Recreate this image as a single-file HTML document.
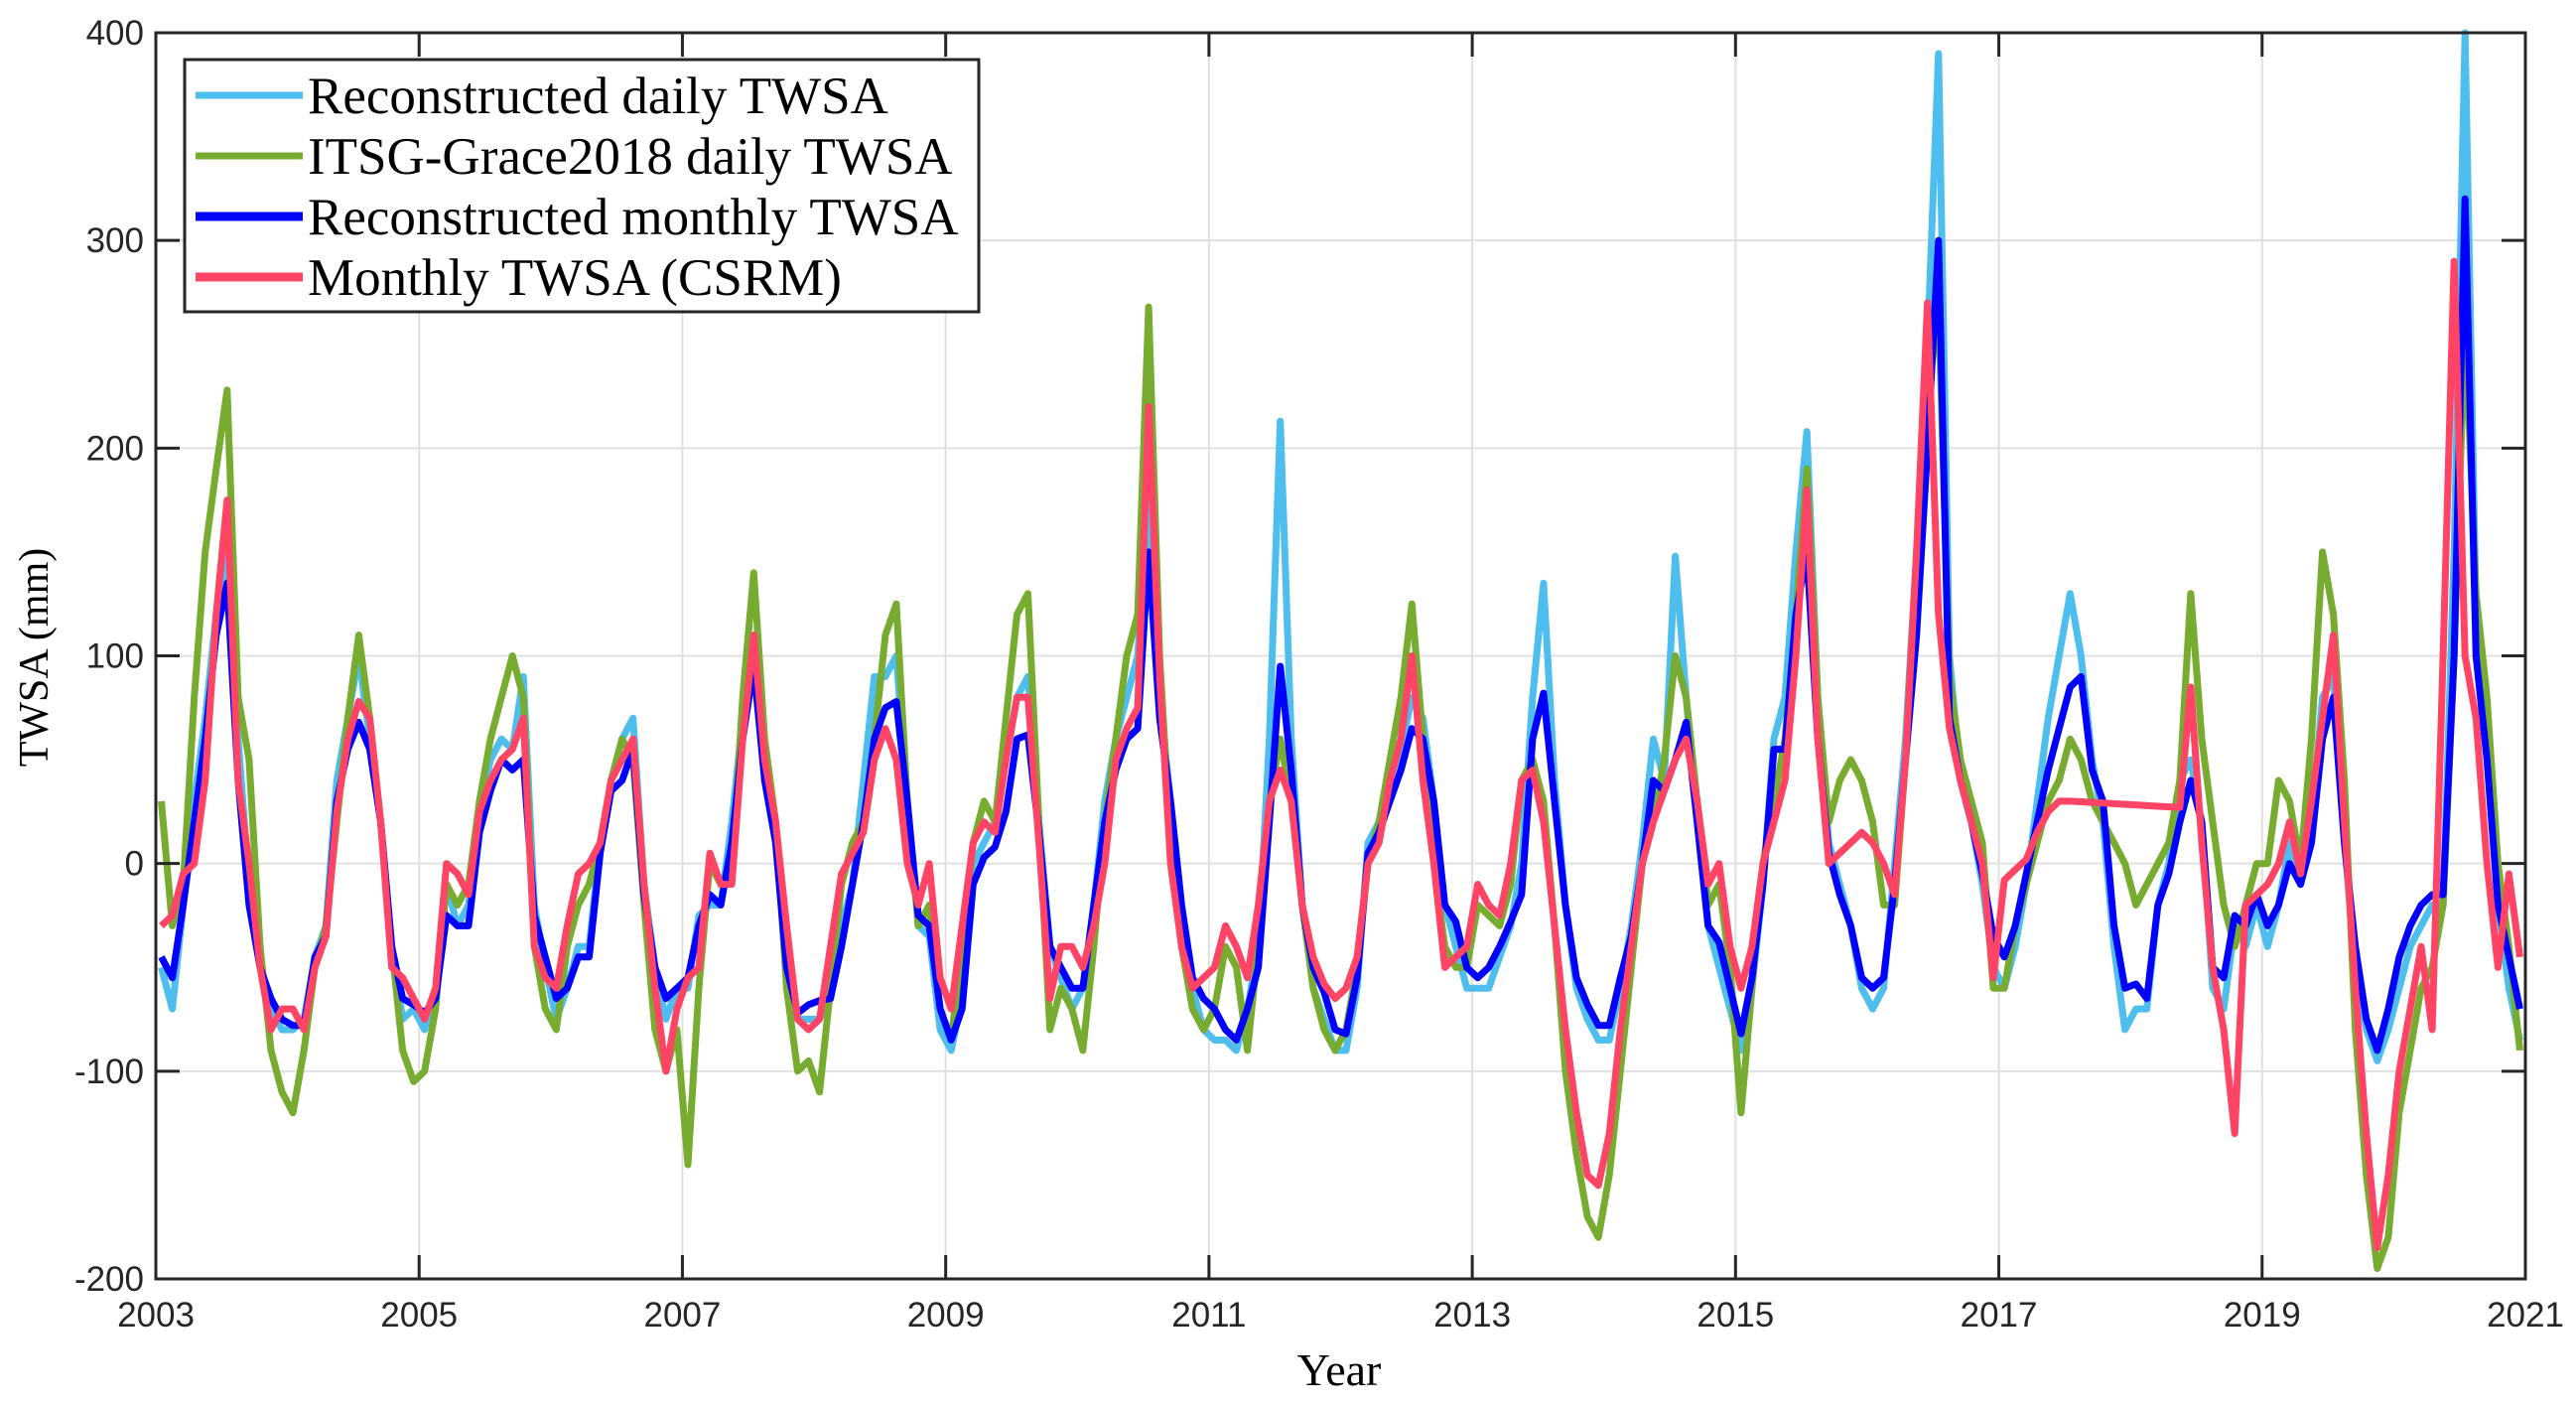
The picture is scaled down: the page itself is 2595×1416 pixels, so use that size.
<!DOCTYPE html>
<html><head><meta charset="utf-8"><style>
html,body{margin:0;padding:0;background:#fff;}
svg{display:block;}
</style></head><body>
<svg id="chart" width="2595" height="1416" viewBox="0 0 2595 1416" xmlns="http://www.w3.org/2000/svg">
<g id="grid"></g>
<g id="series"></g>
<rect x="157" y="33" width="2387" height="1255" fill="none" stroke="#262626" stroke-width="3"/>
<g id="ticks"></g>
<text x="1349" y="1395" font-family="Liberation Serif, serif" font-size="46" text-anchor="middle" fill="#000">Year</text>
<text transform="translate(48,662) rotate(-90)" font-family="Liberation Serif, serif" font-size="42" text-anchor="middle" fill="#000">TWSA (mm)</text>
<g>
<rect x="186" y="60" width="800" height="254" fill="#fff" stroke="#262626" stroke-width="3"/>
<line x1="197" y1="96" x2="305" y2="96" stroke="#4DBEEE" stroke-width="7"/>
<text x="310" y="114" font-family="Liberation Serif, serif" font-size="53">Reconstructed daily TWSA</text>
<line x1="197" y1="157" x2="305" y2="157" stroke="#77AC30" stroke-width="7"/>
<text x="310" y="175" font-family="Liberation Serif, serif" font-size="53">ITSG-Grace2018 daily TWSA</text>
<line x1="197" y1="218" x2="305" y2="218" stroke="#0000FF" stroke-width="9"/>
<text x="310" y="236" font-family="Liberation Serif, serif" font-size="53">Reconstructed monthly TWSA</text>
<line x1="197" y1="279" x2="305" y2="279" stroke="#FF4466" stroke-width="9"/>
<text x="310" y="297" font-family="Liberation Serif, serif" font-size="53">Monthly TWSA (CSRM)</text>
</g>
</svg>
<script>
const startYear = 2003;
const xTicks = [2003,2005,2007,2009,2011,2013,2015,2017,2019,2021];
const yTicks = [-200,-100,0,100,200,300,400];
const recDaily = [
-50,-70,-20,30,70,120,150,60,-10,-50,-70,-80,
-80,-75,-45,-30,40,70,100,60,20,-40,-75,-70,
-80,-60,-10,-30,-20,25,50,60,55,90,-20,-50,
-75,-60,-40,-40,10,40,60,70,-10,-50,-75,-60,
-60,-25,-20,-20,20,70,110,50,10,-50,-75,-75,
-75,-60,-30,-10,40,90,90,100,30,-30,-35,-80,
-90,-65,0,10,20,50,80,90,20,-40,-55,-70,
-60,-20,30,60,80,100,180,80,30,-20,-60,-80,
-85,-85,-90,-70,-40,60,213,60,-20,-60,-75,-90,
-90,-60,10,20,40,55,80,70,30,-20,-40,-60,
-60,-60,-45,-30,0,80,135,40,-20,-60,-75,-85,
-85,-60,-30,10,60,40,148,80,20,-30,-50,-70,
-90,-60,-10,60,80,150,208,80,10,-10,-30,-60,
-70,-60,0,60,150,250,390,100,40,20,-10,-50,
-60,-40,-10,30,70,100,130,100,50,20,-40,-80,
-70,-70,-20,0,40,50,20,-60,-70,-30,-40,-20,
-40,-20,10,-10,20,80,90,10,-50,-80,-95,-80,
-60,-40,-30,-20,-20,150,400,120,60,-20,-60,-85];
const itsgDaily = [
30,-30,-10,80,150,190,228,80,50,-40,-90,-110,
-120,-90,-50,-30,20,70,110,70,20,-40,-90,-105,
-100,-70,-10,-20,-10,30,60,80,100,80,-40,-70,
-80,-40,-20,-10,10,40,60,50,-20,-80,-100,-80,
-145,-60,0,-10,-5,80,140,60,20,-60,-100,-95,
-110,-60,-10,10,20,60,110,125,30,-30,-20,-70,
-85,-40,10,30,20,70,120,130,20,-80,-60,-70,
-90,-40,20,60,100,120,268,100,10,-40,-70,-80,
-70,-40,-50,-90,-40,30,60,30,-20,-60,-80,-90,
-80,-50,0,20,50,80,125,60,0,-40,-50,-50,
-20,-25,-30,-10,40,50,30,-30,-100,-140,-170,-180,
-150,-100,-50,0,20,50,100,80,30,-20,-10,-50,
-120,-60,0,30,60,120,190,80,20,40,50,40,
20,-20,-20,50,150,220,270,90,50,30,10,-60,
-60,-30,-10,10,30,40,60,50,30,20,10,0,
-20,-10,0,10,40,130,60,20,-20,-40,-20,0,
0,40,30,0,60,150,120,40,-80,-150,-195,-180,
-120,-90,-60,-50,-20,100,260,130,80,0,-40,-90];
const recMonthly = [
-45,-55,-20,20,60,110,135,40,-20,-50,-65,-75,
-78,-78,-45,-35,30,55,68,55,20,-40,-65,-68,
-72,-65,-25,-30,-30,15,35,50,45,50,-25,-45,
-65,-60,-45,-45,5,35,40,55,-15,-50,-65,-60,
-55,-30,-15,-20,10,60,95,40,10,-50,-72,-68,
-66,-65,-40,-10,20,60,75,78,30,-25,-30,-70,
-85,-70,-10,3,8,25,60,62,15,-40,-50,-60,
-60,-20,20,45,60,65,150,70,30,-20,-55,-65,
-70,-80,-85,-70,-50,20,95,45,-20,-50,-62,-80,
-82,-55,5,15,30,45,65,60,30,-20,-28,-50,
-55,-50,-40,-28,-15,60,82,30,-20,-55,-68,-78,
-78,-55,-35,0,40,35,50,68,20,-30,-38,-60,
-82,-55,-10,55,55,120,150,60,5,-15,-30,-55,
-60,-55,-10,50,110,200,300,70,40,20,-5,-35,
-45,-30,-5,20,45,65,85,90,45,30,-30,-60,
-58,-65,-20,-5,20,40,20,-50,-55,-25,-30,-15,
-30,-20,0,-10,10,60,80,10,-40,-75,-90,-70,
-45,-30,-20,-15,-15,100,320,100,50,-20,-45,-70];
const csrmMonthly = [
-30,-25,-5,0,40,120,175,40,0,-50,-80,-70,
-70,-80,-50,-35,25,60,78,70,20,-50,-55,-65,
-75,-60,0,-5,-15,25,40,50,55,70,-40,-55,
-60,-30,-5,0,10,40,50,60,-10,-60,-100,-70,
-55,-50,5,-10,-10,60,110,50,20,-30,-75,-80,
-75,-40,-5,5,15,50,65,50,0,-20,0,-55,
-70,-30,10,20,15,50,80,80,10,-65,-40,-40,
-50,-30,0,50,65,75,220,90,0,-40,-60,-55,
-50,-30,-40,-55,-20,30,45,30,-20,-45,-58,-65,
-60,-45,0,10,40,60,100,40,0,-50,-45,-40,
-10,-20,-25,0,40,45,20,-30,-80,-120,-150,-155,
-130,-80,-40,0,20,35,50,60,30,-10,0,-40,
-60,-40,0,20,40,100,180,60,0,5,10,15,
10,0,-15,50,150,270,120,65,40,20,0,-55,
-8,-3,2,15,25,30,30,null,null,null,null,null,
null,null,null,null,27,85,10,-50,-80,-130,-20,-15,
-10,0,20,-5,30,70,110,20,-60,-130,-185,-150,
-100,-70,-40,-80,100,290,100,70,0,-50,-5,-45];

const L=157,R=2544,T=33,B=1288;
function xs(t){return L+(t-2003)/(2021-2003)*(R-L);}
function ys(v){return B-(v+200)/600*(B-T);}
const NS="http://www.w3.org/2000/svg";
const grid=document.getElementById('grid'), ticks=document.getElementById('ticks'), series=document.getElementById('series');
function mk(tag,attrs,parent){const e=document.createElementNS(NS,tag);for(const k in attrs)e.setAttribute(k,attrs[k]);parent.appendChild(e);return e;}
xTicks.forEach(yr=>{
  const x=xs(yr);
  const g=mk('line',{x1:x,y1:T,x2:x,y2:B,stroke:'#e0e0e0','stroke-width':2},grid);
  
  
  const t1=mk('line',{x1:x,y1:B,x2:x,y2:B-24,stroke:'#262626','stroke-width':3},ticks);
  
  
  const t2=mk('line',{x1:x,y1:T,x2:x,y2:T+24,stroke:'#262626','stroke-width':3},ticks);
  
  
  const lb=mk('text',{x:x,y:B+48,'font-family':'Liberation Sans, sans-serif','font-size':35,'text-anchor':'middle',fill:'#262626'},ticks);
  lb.textContent=yr;
  
  
});
yTicks.forEach(v=>{
  const y=ys(v);
  const g=mk('line',{x1:L,y1:y,x2:R,y2:y,stroke:'#e0e0e0','stroke-width':2},grid);
  
  
  const t1=mk('line',{x1:L,y1:y,x2:L+24,y2:y,stroke:'#262626','stroke-width':3},ticks);
  
  
  const t2=mk('line',{x1:R,y1:y,x2:R-24,y2:y,stroke:'#262626','stroke-width':3},ticks);
  
  
  const lb=mk('text',{x:L-12,y:y+12,'font-family':'Liberation Sans, sans-serif','font-size':35,'text-anchor':'end',fill:'#262626'},ticks);
  lb.textContent=v;
  
  
});
function pathOf(arr){
  let d='';
  arr.forEach((v,i)=>{ if(v===null)return; const t=startYear+(i+0.5)/12; d+=(d?'L':'M')+xs(t).toFixed(1)+','+ys(v).toFixed(1);});
  return d;
}
const p1=mk('path',{d:pathOf(recDaily),fill:'none',stroke:'#4DBEEE','stroke-width':7,'stroke-linejoin':'round'},series);


const p2=mk('path',{d:pathOf(itsgDaily),fill:'none',stroke:'#77AC30','stroke-width':7,'stroke-linejoin':'round'},series);


const p3=mk('path',{d:pathOf(recMonthly),fill:'none',stroke:'#0000FF','stroke-width':7,'stroke-linejoin':'round'},series);


const p4=mk('path',{d:pathOf(csrmMonthly),fill:'none',stroke:'#FF4466','stroke-width':7,'stroke-linejoin':'round'},series);


</script>
</body></html>
